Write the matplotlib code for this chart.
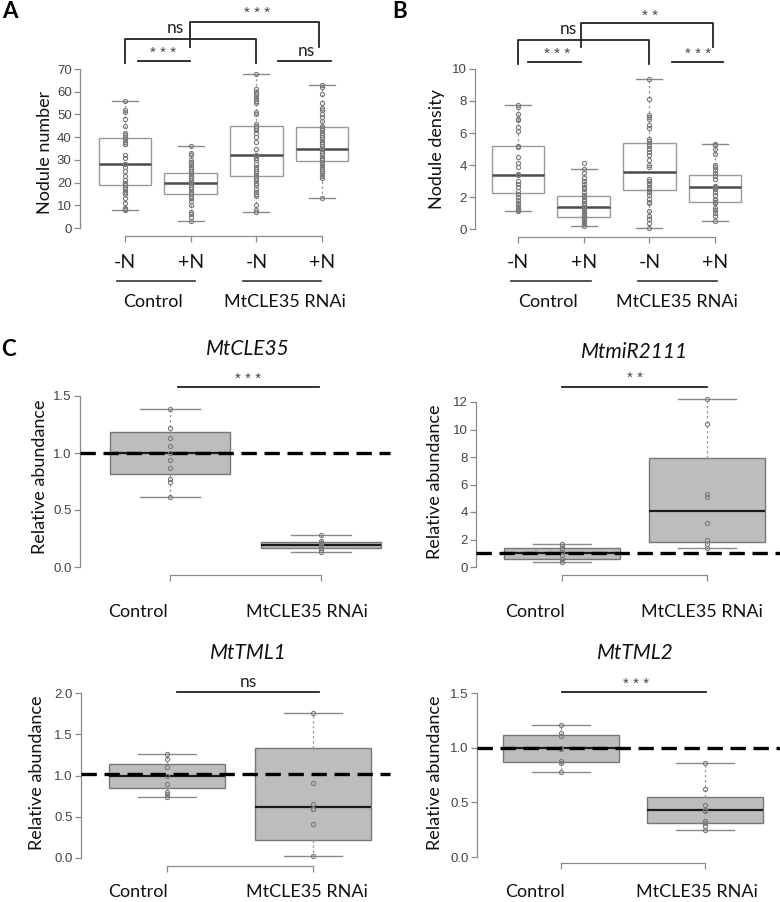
import numpy as np
import matplotlib
matplotlib.use("Agg")
import matplotlib.pyplot as plt
from matplotlib import transforms

W, H = 780, 902

# ---------------- data ----------------
nitrate = ["-N", "+N", "-N", "+N"]
treatments = ["Control", "MtCLE35 RNAi"]

# box stats: (whisker low, q1, median, q3, whisker high)
nod_number_stats = [(8, 19, 28, 39.5, 56), (3, 15, 20, 24, 36),
                    (7, 23, 32, 45, 68), (13, 29.5, 35, 44.5, 63)]
nod_number_ctrl_minus = [56, 52, 51, 48, 45, 42, 41, 40, 39, 38, 37, 37, 32, 31, 28, 28,
                         27, 25, 23, 21, 20, 19, 18, 17, 16, 16, 15, 13, 11, 9, 8.5, 8]
nod_number_ctrl_plus = [36, 33, 32, 30, 29, 28, 27, 26, 25, 24, 23, 23, 22, 21, 21, 20,
                        20, 19, 18, 17, 16, 15, 14, 13, 12, 10, 7, 6, 5, 3]
nod_number_rnai_minus = [68, 61, 60, 59, 58, 57, 56, 55, 51, 50, 46, 45, 44, 43, 42, 40,
                         38, 35, 32, 31, 30, 28, 27, 26, 25, 24, 23, 22, 21, 20, 19, 17,
                         16, 15, 14, 10, 8, 7]
nod_number_rnai_plus = [63, 62, 59, 55, 53, 52, 50, 49, 47, 45, 44, 43, 42, 41, 40, 39,
                        38, 37, 36, 35, 34, 33, 32, 31, 30, 29, 28, 27, 26, 25, 24, 23,
                        22, 13]

nod_density_stats = [(1.1, 2.25, 3.4, 5.2, 7.75), (0.2, 0.75, 1.38, 2.05, 3.75),
                     (0.05, 2.45, 3.55, 5.4, 9.35), (0.5, 1.7, 2.65, 3.4, 5.3)]
nod_density_ctrl_minus = [7.75, 7.6, 7.2, 6.9, 6.8, 6.4, 6.1, 5.2, 5.15, 4.5, 4.1, 3.9,
                          3.45, 3.4, 3.35, 3.0, 2.8, 2.6, 2.4, 2.2, 2.0, 1.8, 1.6, 1.5,
                          1.3, 1.2, 1.1]
nod_density_ctrl_plus = [4.1, 3.75, 3.5, 3.2, 3.0, 2.8, 2.6, 2.5, 2.3, 2.1, 2.0, 1.9,
                         1.8, 1.6, 1.5, 1.4, 1.3, 1.2, 1.1, 1.0, 0.9, 0.8, 0.7, 0.6,
                         0.5, 0.4, 0.3, 0.2]
nod_density_rnai_minus = [9.35, 8.1, 7.1, 7.0, 6.9, 6.5, 6.3, 5.6, 5.5, 5.3, 5.2, 5.0,
                          4.8, 4.6, 4.3, 4.0, 3.9, 3.1, 3.0, 2.9, 2.8, 2.6, 2.5, 2.4,
                          2.3, 2.1, 1.9, 1.7, 1.6, 1.1, 0.8, 0.6, 0.4, 0.05]
nod_density_rnai_plus = [5.3, 5.25, 5.0, 4.7, 4.0, 3.9, 3.7, 3.5, 3.3, 3.1, 2.7, 2.65,
                         2.6, 2.5, 2.3, 2.1, 1.9, 1.8, 1.7, 1.6, 1.3, 1.2, 1.0, 0.8, 0.5]

genes = ["MtCLE35", "MtmiR2111", "MtTML1", "MtTML2"]
gene_sig = ["***", "**", "ns", "***"]
gene_stats = [
    [(0.61, 0.82, 1.0, 1.18, 1.39), (0.13, 0.17, 0.19, 0.22, 0.28)],
    [(0.4, 0.6, 1.05, 1.4, 1.65), (1.4, 1.8, 4.1, 7.9, 12.2)],
    [(0.74, 0.85, 1.0, 1.14, 1.26), (0.03, 0.22, 0.62, 1.33, 1.76)],
    [(0.78, 0.87, 1.0, 1.12, 1.21), (0.25, 0.31, 0.43, 0.55, 0.86)],
]
cle35_ctrl = [1.39, 1.22, 1.13, 1.06, 1.0, 0.94, 0.87, 0.77, 0.75, 0.61]
cle35_rnai = [0.28, 0.23, 0.21, 0.2, 0.19, 0.18, 0.17, 0.15, 0.13]
mir2111_ctrl = [1.65, 1.5, 1.3, 1.1, 0.9, 0.6, 0.4]
mir2111_rnai = [12.2, 10.4, 5.3, 5.1, 3.2, 2.0, 1.7, 1.4]
tml1_ctrl = [1.26, 1.2, 1.1, 1.0, 0.9, 0.8, 0.77, 0.74]
tml1_rnai = [1.76, 0.91, 0.65, 0.6, 0.59, 0.41, 0.03]
tml2_ctrl = [1.21, 1.13, 1.11, 1.0, 0.99, 0.88, 0.86, 0.78]
tml2_rnai = [0.86, 0.62, 0.48, 0.43, 0.42, 0.33, 0.31, 0.28, 0.25]
gene_points = [[cle35_ctrl, cle35_rnai], [mir2111_ctrl, mir2111_rnai],
               [tml1_ctrl, tml1_rnai], [tml2_ctrl, tml2_rnai]]
gene_ref_level = [1.0, 1.0, 1.02, 1.0]
gene_yticks = [[0, 0.5, 1.0, 1.5], [0, 2, 4, 6, 8, 10, 12],
               [0, 0.5, 1.0, 1.5, 2.0], [0, 0.5, 1.0, 1.5]]

# ---------------- style ----------------
plt.rcParams['font.family'] = ['Liberation Sans', 'DejaVu Sans']
TXT = ['Lato', 'DejaVu Sans']
AXC = '#8a8a8a'
NUMC = '#444444'


def fy(py):
    return 1 - py / H


def make_axes(fig, box, xref, yref):
    l, r, t, b = box
    (xd1, xp1), (xd2, xp2) = xref
    sx = (xd2 - xd1) / (xp2 - xp1)
    (yd1, yp1), (yd2, yp2) = yref
    sy = (yd2 - yd1) / (yp2 - yp1)
    ax = fig.add_axes([l / W, 1 - b / H, (r - l) / W, (b - t) / H])
    ax.set_xlim(xd1 + (l - xp1) * sx, xd1 + (r - xp1) * sx)
    ax.set_ylim(yd1 + (b - yp1) * sy, yd1 + (t - yp1) * sy)
    ax.patch.set_visible(False)
    return ax


def r_axes(ax, ngroups, yticks, ylabels=None):
    for s in ['top', 'right']:
        ax.spines[s].set_visible(False)
    ax.spines['left'].set_bounds(yticks[0], yticks[-1])
    ax.spines['bottom'].set_bounds(1, ngroups)
    for s in ['left', 'bottom']:
        ax.spines[s].set_color(AXC)
        ax.spines[s].set_linewidth(0.9)
    ax.set_yticks(yticks)
    if ylabels is not None:
        ax.set_yticklabels(ylabels)
    ax.set_xticks(range(1, ngroups + 1))
    ax.set_xticklabels([])
    ax.tick_params(axis='both', direction='out', length=4, width=0.9, color=AXC,
                   labelcolor=NUMC, labelsize=9.5, pad=2)


def draw_boxes(ax, stats, points, filled):
    bx = []
    for s in stats:
        bx.append(dict(whislo=s[0], q1=s[1], med=s[2], q3=s[3], whishi=s[4]))
    if filled:
        boxprops = dict(facecolor='#bdbdbd', edgecolor='#777777', linewidth=1.0)
        medprops = dict(color='#1a1a1a', linewidth=1.6)
    else:
        boxprops = dict(facecolor='white', edgecolor='#9a9a9a', linewidth=1.0)
        medprops = dict(color='#4a4a4a', linewidth=1.8)
    ax.bxp(bx, positions=range(1, len(bx) + 1), widths=0.8, capwidths=0.4,
           patch_artist=True, showfliers=False, manage_ticks=False,
           boxprops=boxprops, medianprops=medprops,
           whiskerprops=dict(color='#9a9a9a', linewidth=0.9, linestyle=(0, (2, 2))),
           capprops=dict(color='#8a8a8a', linewidth=1.0))
    for i, pts in enumerate(points):
        ax.plot(np.full(len(pts), i + 1), pts, 'o', ms=3.0, mfc='none',
                mec='#7a7a7a', mew=0.8, zorder=4)


def group_labels(fig, ax, label_y, line_y, grp_y, line_spans, grp_x):
    tr = transforms.blended_transform_factory(ax.transData, fig.transFigure)
    for i, lab in enumerate(nitrate):
        ax.text(i + 1, fy(label_y), lab, transform=tr, ha='center', va='center',
                fontsize=14, family=TXT, color='#111111')
    for (a, b) in line_spans:
        ax.plot([a, b], [fy(line_y)] * 2, transform=tr, color='#333333', lw=1.2,
                clip_on=False)
    for x, lab in zip(grp_x, treatments):
        fig.text(x / W, fy(grp_y), lab, ha='center', va='center', fontsize=13,
                 family=TXT, color='#111111')


def sig_text(fig, text, tx, ty):
    if text == 'ns':
        fig.text(tx / W, fy(ty), text, ha='center', va='center', fontsize=12.5,
                 family=TXT, color='#222222')
    else:
        fig.text(tx / W, fy(ty + 2), ' '.join(text), ha='center', va='center',
                 fontsize=11, color='#444444')


def sig_line(fig, ax, x0, x1, py, text, tx, ty):
    tr = transforms.blended_transform_factory(ax.transData, fig.transFigure)
    ax.plot([x0, x1], [fy(py)] * 2, transform=tr, color='#222222', lw=1.3,
            clip_on=False)
    sig_text(fig, text, tx, ty)


def bracket(fig, ax, x0, x1, py_top, py0, py1):
    tr = transforms.blended_transform_factory(ax.transData, fig.transFigure)
    ax.plot([x0, x0, x1, x1], [fy(py0), fy(py_top), fy(py_top), fy(py1)],
            transform=tr, color='#222222', lw=1.3, clip_on=False)


fig = plt.figure(figsize=(W / 100, H / 100), dpi=100)

# ---------------- panel A ----------------
axA = make_axes(fig, (80, 356, 60, 236), ((1, 125), (4, 322)), ((0, 228), (70, 69)))
r_axes(axA, 4, list(range(0, 71, 10)))
draw_boxes(axA, nod_number_stats,
           [nod_number_ctrl_minus, nod_number_ctrl_plus,
            nod_number_rnai_minus, nod_number_rnai_plus], filled=False)
group_labels(fig, axA, 262, 281, 302, [(0.88, 2.06), (2.79, 3.99)], [153, 285])
fig.text(45 / W, fy(152), "Nodule number", rotation=90, ha='center', va='center',
         fontsize=13, family=TXT, color='#111111')
sig_line(fig, axA, 1.2, 1.985, 61, "***", 163, 51)
sig_line(fig, axA, 3.33, 4.14, 61, "ns", 306, 51)
bracket(fig, axA, 1, 3, 39, 63, 63)
bracket(fig, axA, 1.985, 3.95, 22, 47, 47)
sig_text(fig, "ns", 175, 28)
sig_text(fig, "***", 257, 11)
fig.text(2 / W, fy(11), "A", ha='left', va='center', fontsize=16, fontweight='bold',
         family=TXT)

# ---------------- panel B ----------------
axB = make_axes(fig, (475, 750, 60, 237), ((1, 518), (4, 715)), ((0, 229), (10, 69)))
r_axes(axB, 4, list(range(0, 11, 2)))
draw_boxes(axB, nod_density_stats,
           [nod_density_ctrl_minus, nod_density_ctrl_plus,
            nod_density_rnai_minus, nod_density_rnai_plus], filled=False)
group_labels(fig, axB, 262, 281, 302, [(0.9, 2.11), (2.82, 4.03)], [548, 677])
fig.text(437 / W, fy(149), "Nodule density", rotation=90, ha='center', va='center',
         fontsize=13, family=TXT, color='#111111')
sig_line(fig, axB, 1.15, 1.96, 62, "***", 557, 52)
sig_line(fig, axB, 3.34, 4.12, 62, "***", 698, 52)
bracket(fig, axB, 1, 3, 40, 64, 64)
bracket(fig, axB, 1.96, 3.97, 23, 47, 47)
sig_text(fig, "ns", 568, 29)
sig_text(fig, "**", 650, 14)
fig.text(392 / W, fy(11), "B", ha='left', va='center', fontsize=16, fontweight='bold',
         family=TXT)

# ---------------- panel C ----------------
c_boxes = [(80, 390, 380, 575), (476, 780, 390, 575), (81, 390, 680, 866), (477, 780, 680, 863)]
c_xref = [((1, 170), (2, 321)), ((1, 562), (2, 707)), ((1, 167), (2, 313)), ((1, 561), (2, 705))]
c_yref = [((0, 567), (1.5, 396)), ((0, 567), (12, 402)), ((0, 858), (2, 693)), ((0, 857), (1.5, 693))]
c_title_pos = [(248, 349), (635, 352), (248, 653), (635, 653)]
c_sig_line = [(1.05, 1.99, 387), (1.0, 2.0, 387), (1.07, 2.04, 692), (1.01, 2.01, 692)]
c_sig_text = [(248, 377), (635, 376), (248, 682), (636, 682)]
c_ylab_x = [40, 435, 37, 435]
c_ylab_y = [477, 482, 773, 773]
c_lab_y = [612, 612, 892, 892]
c_lab_x = [(138, 307), (535, 702), (138, 307), (535, 697)]

for k in range(4):
    ax = make_axes(fig, c_boxes[k], c_xref[k], c_yref[k])
    yt = gene_yticks[k]
    if k == 1:
        r_axes(ax, 2, yt)
    else:
        r_axes(ax, 2, yt, ["%.1f" % v for v in yt])
    draw_boxes(ax, gene_stats[k], gene_points[k], filled=True)
    ax.axhline(gene_ref_level[k], color='black', lw=2.4, linestyle=(0, (4.6, 2.3)),
               zorder=5, clip_on=False)
    tx, ty = c_title_pos[k]
    fig.text(tx / W, fy(ty), genes[k], ha='center', va='center', fontsize=15,
             style='italic', family=TXT, color='#111111')
    x0, x1, py = c_sig_line[k]
    stx, sty = c_sig_text[k]
    sig_line(fig, ax, x0, x1, py, gene_sig[k], stx, sty)
    fig.text(c_ylab_x[k] / W, fy(c_ylab_y[k]), "Relative abundance", rotation=90,
             ha='center', va='center', fontsize=13, family=TXT, color='#111111')
    for x, lab in zip(c_lab_x[k], treatments):
        fig.text(x / W, fy(c_lab_y[k]), lab, ha='center', va='center', fontsize=13,
                 family=TXT, color='#111111')

fig.text(1 / W, fy(349), "C", ha='left', va='center', fontsize=16, fontweight='bold',
         family=TXT)

fig.savefig("out.png", dpi=100)
